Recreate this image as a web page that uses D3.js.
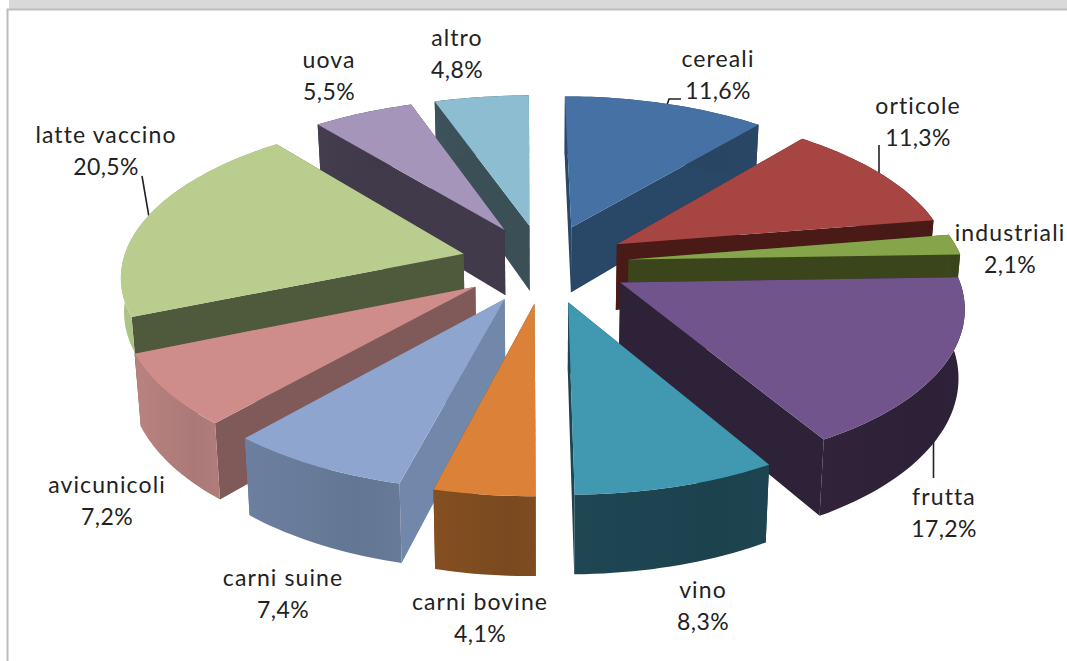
<!DOCTYPE html>
<html>
<head>
<meta charset="utf-8">
<style>
  body { margin: 0; background: #fff; }
  text { font-family: Lato, "Open Sans", sans-serif; font-size: 23px; fill: #222; text-anchor: middle; }
  .name { letter-spacing: 1.1px; }
  .share { letter-spacing: 0.4px; }
</style>
</head>
<body>
<div id="chart"></div>
<script src="https://d3js.org/d3.v7.min.js"></script>
<script>
const categories = ["cereali", "orticole", "industriali", "frutta", "vino", "carni bovine",
    "carni suine", "avicunicoli", "latte vaccino", "uova", "altro"]
const shares = [11.6, 11.3, 2.1, 17.2, 8.3, 4.1, 7.4, 7.2, 20.5, 5.5, 4.8]

const topColors = ["#4671a5", "#a64541", "#86a44a", "#71548c", "#4198b1", "#db8138",
    "#8ea6cf", "#ce8d8b", "#b9cd8f", "#a595ba", "#8dbdd1"]
const sideColors = ["#294766", "#4a1a17", "#3a451c", "#2e2238", "#1d4450", "#7e4c20",
    "#7288ab", "#7f5a58", "#4f5a3c", "#413a4a", "#3a4f56"]
const rimColors = ["#294766", "#4a1a17", "#3a451c", "#2e2238", "#1d4450", "#7e4c20",
    "#677a98", "#b07d7b", "#a5bc80", "#413a4a", "#3a4f56"]
// the big left slice shows only a short curved wall
const rimDepths = [1, 1, 1, 1, 1, 1, 1, 1, 0.5, 1, 1]

// label centre x, first baseline
const labelSpots = [[718, 67], [918, 114], [1010, 241], [944, 505], [703, 598], [480, 610],
    [283, 586], [107, 493], [106, 143], [329, 68], [457, 46]]
const leaders = [[[667, 105], [669, 99], [681, 99]], [[879, 145], [879, 174]],
    [[142, 176], [149, 217]], [[933.5, 437], [933.5, 478]]]

const width = 1067
const height = 661
const explode = 0.25
const wallHeight = 67

const svg = d3.select("#chart").append("svg")
    .attr("width", width)
    .attr("height", height)
    .style("display", "block")

// window frame around the sheet
svg.append("rect").attr("x", 9).attr("y", 0).attr("width", width - 9).attr("height", 9).attr("fill", "#d9d9d9")
svg.append("path").attr("d", "M7.5,661V9.5H1067").attr("fill", "none").attr("stroke", "#bdbdbd").attr("stroke-width", 2)

// tilted view of the pie plane: x, y in radius units, z 0 on top and 1 at the foot of the wall
function project(x, y, z) {
    const w = 1 + 0.01104 * x - 0.12865 * y
    const pull = 9 * Math.exp(-Math.pow(x / 0.25, 2)) * Math.max(0, Math.min(1, (-y - 0.35) / 0.9))
    const px = (343.67268 * x - 57.03953 * y + 545.07971) / w + pull
    const py = (-2.2549 * x + 122.55589 * y + 263.33036) / w
    return [545 + (px - 545) * (1 - 0.015 * z), py + z * wallHeight / w]
}

const slices = d3.pie().sort(null).value(d => d)(shares).map((d, i) => {
    const mid = (d.startAngle + d.endAngle) / 2
    return {
        i: i,
        a0: d.startAngle,
        a1: d.endAngle,
        mid: mid,
        ox: explode * Math.sin(mid),
        oy: -explode * Math.cos(mid)
    }
})

const line = d3.line()

function rimPoint(s, a, z) {
    return project(s.ox + Math.sin(a), s.oy - Math.cos(a), z)
}

function rimPoints(s, z) {
    const steps = Math.max(4, Math.ceil((s.a1 - s.a0) * 40))
    return d3.range(steps + 1).map(k => rimPoint(s, s.a0 + (s.a1 - s.a0) * k / steps, z))
}

const defs = svg.append("defs")

// faint banding along the curved walls
slices.forEach(s => {
    const base = d3.color(rimColors[s.i])
    const grad = defs.append("linearGradient").attr("id", "rim" + s.i)
    grad.append("stop").attr("offset", "0%").attr("stop-color", base.brighter(0.12))
    grad.append("stop").attr("offset", "45%").attr("stop-color", base)
    grad.append("stop").attr("offset", "70%").attr("stop-color", base.darker(0.1))
    grad.append("stop").attr("offset", "100%").attr("stop-color", base)
})

const leaderGroup = svg.append("g")
leaderGroup.selectAll("path")
    .data(leaders).enter()
    .append("path")
    .attr("d", d => line(d))
    .attr("fill", "none")
    .attr("stroke", "#222")
    .attr("stroke-width", 1.6)

// back slices first so the nearer ones paint over them
const ordered = slices.slice().sort((a, b) => d3.descending(Math.cos(a.mid), Math.cos(b.mid)))

const groups = svg.selectAll("g.slice")
    .data(ordered).enter()
    .append("g")
    .attr("class", "slice")

function radialWall(s, a) {
    const apexTop = project(s.ox, s.oy, 0)
    const apexFoot = project(s.ox, s.oy, 1)
    return line([apexTop, rimPoint(s, a, 0), rimPoint(s, a, 1), apexFoot]) + "Z"
}

groups.append("path")
    .attr("d", d => radialWall(d, d.a0))
    .attr("fill", d => sideColors[d.i])
groups.append("path")
    .attr("d", d => radialWall(d, d.a1))
    .attr("fill", d => sideColors[d.i])

groups.append("path")
    .attr("d", d => line(rimPoints(d, 0).concat(rimPoints(d, rimDepths[d.i]).reverse())) + "Z")
    .attr("fill", d => "url(#rim" + d.i + ")")

groups.append("path")
    .attr("d", d => line([project(d.ox, d.oy, 0)].concat(rimPoints(d, 0))) + "Z")
    .attr("fill", d => topColors[d.i])

const percent = d3.formatLocale({decimal: ",", thousands: ".", grouping: [3], currency: ["", ""]}).format(".1f")

const labels = svg.selectAll("g.label")
    .data(categories).enter()
    .append("g")
    .attr("class", "label")

labels.append("text")
    .attr("class", "name")
    .attr("x", (d, i) => labelSpots[i][0])
    .attr("y", (d, i) => labelSpots[i][1])
    .text(d => d)

labels.append("text")
    .attr("class", "share")
    .attr("x", (d, i) => labelSpots[i][0])
    .attr("y", (d, i) => labelSpots[i][1] + 32)
    .text((d, i) => percent(shares[i]) + "%")
</script>
</body>
</html>
